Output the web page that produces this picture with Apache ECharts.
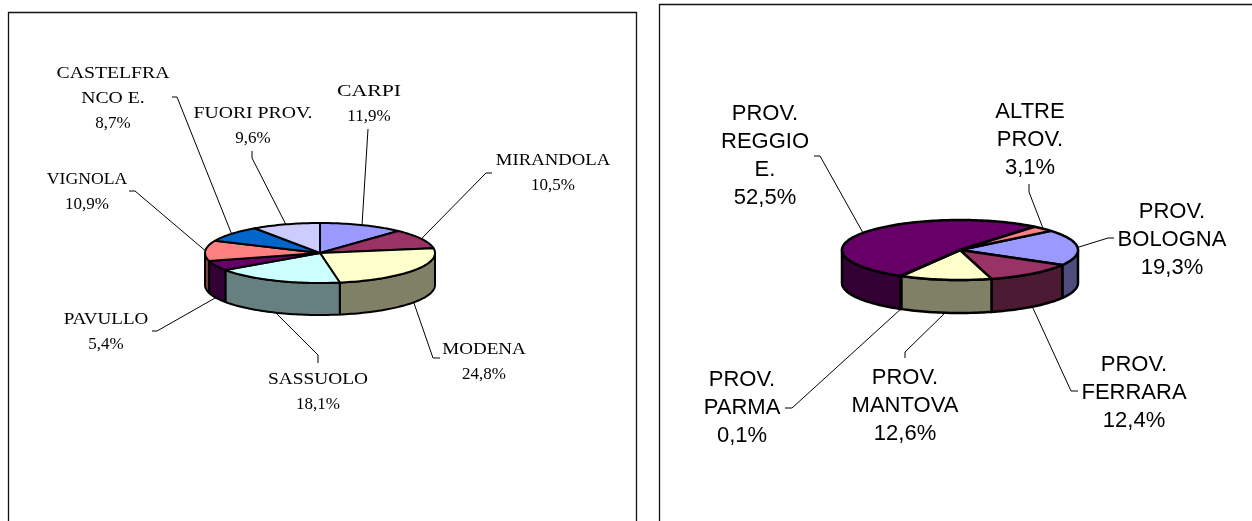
<!DOCTYPE html>
<html><head><meta charset="utf-8">
<style>html,body{margin:0;padding:0;background:#fff}#c{width:1252px;height:521px}</style>
<script src="https://cdn.jsdelivr.net/npm/echarts@6/dist/echarts.min.js"></script>
</head><body><div id="c"></div>
<script>
// --- data ---
const leftNames = ['CARPI','MIRANDOLA','MODENA','SASSUOLO','PAVULLO','VIGNOLA','CASTELFRA\nNCO E.','FUORI PROV.'];
const leftValues = [11.9,10.5,24.8,18.1,5.4,10.9,8.7,9.6];
const rightNames = ['PROV.\nBOLOGNA','PROV.\nFERRARA','PROV.\nMANTOVA','PROV.\nPARMA','PROV.\nREGGIO\nE.','ALTRE\nPROV.'];
const rightValues = [19.3,12.4,12.6,0.1,52.5,3.1];
// --- colours ---
const leftColors = ['#9999FF','#993366','#FFFFCC','#CCFFFF','#660066','#FF8080','#0066CC','#CCCCFF'];
const rightColors = ['#9999FF','#993366','#FFFFCC','#CCFFFF','#660066','#FF8080'];
// --- layout: label centre [x,y] (top of block), leader [elbowX,elbowY,endX,endY], horizontal stretch of the name lines ---
const leftLabelPos = [[369,79],[553,148],[484,337],[318,367],[106,307],[87,167],[113,61],[253,101]];
const leftLeaders = [[368,129,368,129],[486,173,492,173],[433,358,440,358],[318,355,318,363],[157,331,152,331],[135,191,129,191],[177,97,172,97],[252,158,252,151]];
const leftNameStretch = [1.28,1.1,1.12,1.14,1.12,1.04,1.16,1.16];
const rightLabelPos = [[1172,198],[1134,351],[905,364],[742,366],[765,100],[1030,98]];
const rightLeaders = [[1108,238,1114,238],[1071,391,1078,391],[905,352,905,358],[792,408,785,408],[820,156,814,156],[1029,192,1029,184]];
const rightNameStretch = [1,1,1,1,1,1];
const panels = [[8.5,12.5,628,700],[659.5,4.5,800,700]];

function pct(v){return v.toFixed(1).replace('.',',')+'%';}
function hex2dark(c){
  const n=parseInt(c.slice(1),16);
  const h=x=>Math.round(x/2).toString(16).padStart(2,'0');
  return '#'+h(n>>16&255)+h(n>>8&255)+h(n&255);
}
function pieSeries(names,values,colors,geo,labelPos,leaders,stretch,font){
  const total=values.reduce((a,b)=>a+b,0);
  const slices=[];let acc=geo.start;
  values.forEach(v=>{const s=acc;acc+=v/total*360;slices.push([s,acc]);});
  const pt=(a,dy)=>{const r=a*Math.PI/180;return [geo.cx+geo.rx*Math.sin(r),geo.cy-geo.ry*Math.cos(r)+(dy||0)];};
  const arc=(a,b,dy)=>{const o=[];const n=Math.max(2,Math.ceil((b-a)/1.5));for(let i=0;i<=n;i++)o.push(pt(a+(b-a)*i/n,dy));return o;};
  return {
    type:'custom',coordinateSystem:'none',silent:true,animation:false,clip:false,
    data:values.map((v,i)=>[i,v]),
    renderItem(p,api){
      const i=api.value(0),[a,b]=slices[i],kids=[];
      const st={stroke:'#000',lineWidth:geo.lw,lineJoin:'round'};
      for(const k of [0,360]){
        const s=Math.max(a,90+k),e=Math.min(b,270+k);
        if(e>s){
          const top=arc(s,e,0),bot=arc(s,e,geo.depth).reverse();
          kids.push({type:'polygon',shape:{points:top.concat(bot)},z2:1,
            style:Object.assign({fill:hex2dark(colors[i])},st)});
        }
      }
      kids.push({type:'polygon',shape:{points:[[geo.cx,geo.cy]].concat(arc(a,b,0))},z2:2,
        style:Object.assign({fill:colors[i]},st)});
      const mid=(a+b)/2,nm=mid%360,front=nm>90&&nm<270;
      const anc=pt(mid,front?geo.depth:0),L=leaders[i];
      kids.push({type:'polyline',shape:{points:[anc,[L[0],L[1]],[L[2],L[3]]]},z2:0,
        style:{stroke:'#000',lineWidth:1,fill:null}});
      const lines=names[i].split('\n');
      lines.concat([pct(values[i])]).forEach((t,k)=>{
        kids.push({type:'text',z2:3,x:labelPos[i][0],y:labelPos[i][1]+k*font.lh,
          scaleX:k<lines.length?stretch[i]:1,
          style:{text:t,x:0,y:(font.lh-font.size)/2,align:'center',verticalAlign:'top',fill:'#000',
            fontFamily:font.family,fontSize:font.size}});
      });
      return {type:'group',children:kids};
    }
  };
}
const chart=echarts.init(document.getElementById('c'),null,{renderer:'canvas',width:1252,height:521});
chart.setOption({
  backgroundColor:'#fff',animation:false,
  graphic:panels.map(r=>({type:'rect',shape:{x:r[0],y:r[1],width:r[2],height:r[3]},style:{fill:'none',stroke:'#111',lineWidth:1.3},silent:true})),
  series:[
    pieSeries(leftNames,leftValues,leftColors,{cx:320,cy:253,rx:115,ry:30,depth:32,start:0,lw:2},leftLabelPos,leftLeaders,leftNameStretch,{family:'"Liberation Serif"',size:17,lh:25}),
    pieSeries(rightNames,rightValues,rightColors,{cx:960,cy:250,rx:118,ry:30,depth:33,start:50.4,lw:2.5},rightLabelPos,rightLeaders,rightNameStretch,{family:'"Liberation Sans"',size:22,lh:28})
  ]
});
</script></body></html>
